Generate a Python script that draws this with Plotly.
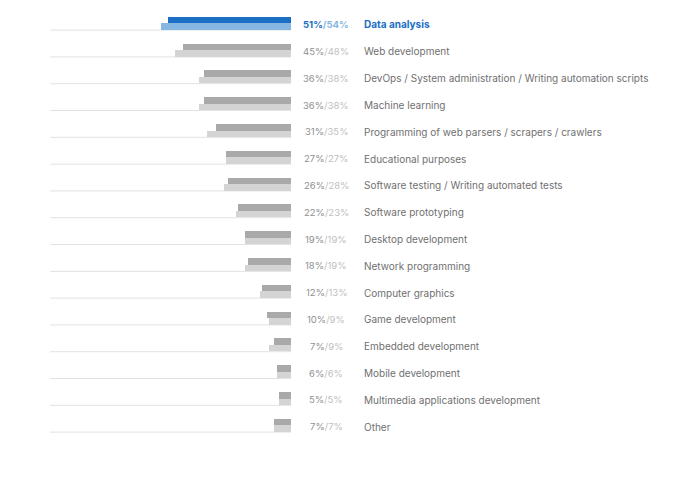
import plotly.graph_objects as go

categories = [
    "Data analysis",
    "Web development",
    "DevOps / System administration / Writing automation scripts",
    "Machine learning",
    "Programming of web parsers / scrapers / crawlers",
    "Educational purposes",
    "Software testing / Writing automated tests",
    "Software prototyping",
    "Desktop development",
    "Network programming",
    "Computer graphics",
    "Game development",
    "Embedded development",
    "Mobile development",
    "Multimedia applications development",
    "Other",
]
series_a = [51, 45, 36, 36, 31, 27, 26, 22, 19, 18, 12, 10, 7, 6, 5, 7]
series_b = [54, 48, 38, 38, 35, 27, 28, 23, 19, 19, 13, 9, 9, 6, 5, 7]

W, H = 688, 483
OFF = 8  # page offset compensation
n = len(categories)
rows = list(range(n))

dark = ["#1a6fc4" if i == 0 else "#a9a9a9" for i in rows]
light = ["#86b7e3" if i == 0 else "#d4d4d4" for i in rows]

fig = go.Figure()
fig.add_trace(go.Bar(
    y=rows, x=series_a, orientation="h", width=0.245, offset=-0.245,
    marker=dict(color=dark, line=dict(width=0)), hoverinfo="skip", showlegend=False,
))
fig.add_trace(go.Bar(
    y=rows, x=series_b, orientation="h", width=0.245, offset=0,
    marker=dict(color=light, line=dict(width=0)), hoverinfo="skip", showlegend=False,
))

shapes = []
annotations = []
font_family = "Inter, Roboto, sans-serif"
for i in rows:
    shapes.append(dict(type="line", xref="x", yref="y", x0=0, x1=100,
                       y0=i + 0.255, y1=i + 0.255,
                       line=dict(color="#e2e2e2", width=1), layer="below"))
    if i == 0:
        pct = ("<b><span style='color:#1a6fc4'>%d%%</span>"
               "<span style='color:#86b7e3'>/%d%%</span></b>" % (series_a[i], series_b[i]))
        name = "<b>%s</b>" % categories[i]
        name_color = "#1a6fc4"
    else:
        pct = ("<span style='color:#8f8f8f'>%d%%</span>"
               "<span style='color:#c0c0c0'>/%d%%</span>" % (series_a[i], series_b[i]))
        name = categories[i]
        name_color = "#707070"
    annotations.append(dict(xref="paper", yref="y", x=(326 - OFF) / W, y=i + 0.05,
                            text=pct, showarrow=False, xanchor="center", yanchor="middle",
                            font=dict(family=font_family, size=9.5)))
    annotations.append(dict(xref="paper", yref="y", x=(362 - OFF) / W, y=i + 0.05,
                            text=name, showarrow=False, xanchor="left", yanchor="middle",
                            font=dict(family=font_family, size=10, color=name_color)))

row_px = 26.8
c0 = 23.3 - OFF
fig.update_layout(
    width=W, height=H,
    margin=dict(l=0, r=0, t=0, b=0),
    paper_bgcolor="white", plot_bgcolor="white",
    barmode="overlay", bargap=0,
    xaxis=dict(domain=[(50 - OFF) / W, (291 - OFF) / W], range=[100, 0], visible=False, fixedrange=True),
    yaxis=dict(range=[(H - c0) / row_px, -c0 / row_px], visible=False, fixedrange=True),
    shapes=shapes, annotations=annotations,
)

fig.write_html("out.html")
